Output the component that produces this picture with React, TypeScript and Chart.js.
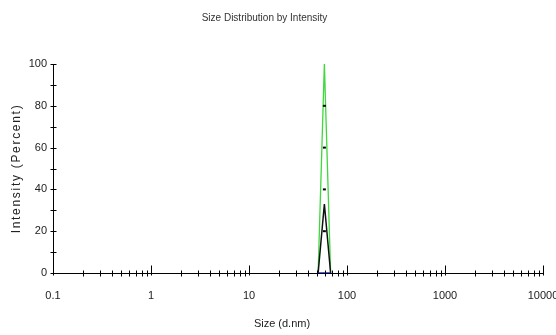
import { useEffect, useRef } from 'react';
import { Chart, registerables } from 'chart.js';
Chart.register(...registerables);

// Size bins (d.nm) and intensity (%)
const sizes = [50.75, 58.77, 68.06];
const greenIntensity = [0, 100, 0];
const blackIntensity = [0, 33, 0];
const blueIntensity = [0, 0, 0];
const markerSizes = [58.77, 58.77, 58.77, 58.77];
const markerIntensity = [20, 40, 60, 80];

const xTickValues = [0.1, 1, 10, 100, 1000, 10000];
const xTickLabels = ['0.1', '1', '10', '100', '1000', '10000'];
const yTickValues = [0, 20, 40, 60, 80, 100];
const yTickLabels = ['0', '20', '40', '60', '80', '100'];

const FONT = "'Liberation Sans', Arial, sans-serif";

const wrapDraw = (obj: any, key: string, ctx: any, fn: (c: any) => void) => {
  if (!obj || obj['__p_' + key]) return;
  const orig = obj[key];
  obj[key] = function (...args: any[]) {
    ctx.save();
    fn(ctx);
    const r = orig.apply(this, args);
    ctx.restore();
    return r;
  };
  obj['__p_' + key] = true;
};

const axisPlugin = {
  id: 'axisMarks',
  afterLayout(chart: any) {
    const ctx = chart.ctx;
    wrapDraw(chart.scales.y, 'drawTitle', ctx, (c) => {
      c.letterSpacing = '1.7px';
    });
    wrapDraw(chart.scales.x, 'drawTitle', ctx, (c) => {
      c.translate(-16, 0);
    });
    wrapDraw(chart.titleBlock, 'draw', ctx, (c) => {
      c.translate(-7, 0);
    });
  },
  afterDraw(chart: any) {
    const { ctx, chartArea, scales } = chart;
    const xs = scales.x;
    const ys = scales.y;
    ctx.save();
    ctx.strokeStyle = '#000';
    ctx.lineWidth = 1;
    const line = (a: number, b: number, c: number, d: number) => {
      ctx.beginPath();
      ctx.moveTo(a, b);
      ctx.lineTo(c, d);
      ctx.stroke();
    };
    const x0 = Math.round(chartArea.left) + 0.5;
    const y0 = Math.round(chartArea.bottom) + 0.5;
    // y axis
    line(x0, chartArea.top, x0, y0);
    for (let v = 0; v <= 100; v += 10) {
      const py = Math.round(ys.getPixelForValue(v)) + 0.5;
      line(x0 - 3, py, x0 + 3, py);
    }
    // x axis
    line(chartArea.left, y0, chartArea.right, y0);
    xTickValues.forEach((d, i) => {
      const px = Math.round(xs.getPixelForValue(d)) + 0.5;
      line(px, y0 - 8, px, y0 + 2);
      if (i < xTickValues.length - 1) {
        for (let k = 2; k <= 9; k++) {
          const mx = Math.round(xs.getPixelForValue(d * k)) + 0.5;
          line(mx, y0 - 3, mx, y0 + 3);
        }
      }
    });
    ctx.restore();
  },
};

export default function App() {
  const ref = useRef<HTMLCanvasElement | null>(null);
  useEffect(() => {
    if (!ref.current) return;
    const chart = new Chart(ref.current, {
      type: 'line',
      data: {
        datasets: [
          {
            label: 'Blue',
            data: sizes.map((s, i) => ({ x: s, y: blueIntensity[i] })),
            borderColor: '#1a1aff',
            borderWidth: 1.5,
            pointRadius: 0,
          },
          {
            label: 'Marks',
            data: markerSizes.map((s, i) => ({ x: s, y: markerIntensity[i] })),
            showLine: false,
            pointStyle: 'line',
            pointRadius: 1.5,
            borderColor: '#000',
            backgroundColor: '#000',
            borderWidth: 2,
          },
          {
            label: 'Black',
            data: sizes.map((s, i) => ({ x: s, y: blackIntensity[i] })),
            borderColor: '#111',
            borderWidth: 1.5,
            pointRadius: 0,
          },
          {
            label: 'Green',
            data: sizes.map((s, i) => ({ x: s, y: greenIntensity[i] })),
            borderColor: '#3ed83e',
            borderWidth: 1.3,
            pointRadius: 0,
          },
        ],
      },
      options: {
        animation: false,
        responsive: false,
        maintainAspectRatio: false,
        layout: { padding: { left: 0, right: 13, top: 0, bottom: 0 } },
        plugins: {
          legend: { display: false },
          tooltip: { enabled: false },
          title: {
            display: true,
            text: 'Size Distribution by Intensity',
            color: '#333',
            font: { family: FONT, size: 10, weight: 'normal', lineHeight: 1.2 },
            padding: { top: 12, bottom: 40 },
          },
        },
        scales: {
          x: {
            type: 'logarithmic',
            position: 'bottom',
            min: 0.1,
            max: 10000,
            grid: { display: false, drawTicks: false },
            border: { display: false },
            afterBuildTicks: (s: any) => {
              s.ticks = xTickValues.map((v) => ({ value: v }));
            },
            afterFit: (s: any) => {
              s.height = 62;
              s.paddingLeft = 0;
              s.paddingRight = 0;
            },
            ticks: {
              autoSkip: false,
              maxRotation: 0,
              padding: 16,
              color: '#222',
              font: { family: FONT, size: 11 },
              callback: (_v: any, i: number) => xTickLabels[i],
            },
            title: {
              display: true,
              text: 'Size (d.nm)',
              color: '#222',
              font: { family: FONT, size: 11 },
              padding: { top: 0, bottom: 4 },
            },
          },
          y: {
            type: 'linear',
            min: 0,
            max: 100,
            grid: { display: false, drawTicks: false },
            border: { display: false },
            afterBuildTicks: (s: any) => {
              s.ticks = yTickValues.map((v) => ({ value: v }));
            },
            afterFit: (s: any) => {
              s.width = 53;
            },
            ticks: {
              padding: 6,
              color: '#222',
              font: { family: FONT, size: 11 },
              callback: (_v: any, i: number) => yTickLabels[i],
            },
            title: {
              display: true,
              text: 'Intensity (Percent)',
              color: '#222',
              font: { family: FONT, size: 12 },
              padding: { top: 9, bottom: 0 },
            },
          },
        },
      },
      plugins: [axisPlugin],
    } as any);
    return () => chart.destroy();
  }, []);
  return (
    <div style={{ position: 'fixed', left: 0, top: 0, width: 556, height: 335, background: '#fff' }}>
      <canvas ref={ref} width={556} height={335} style={{ width: 556, height: 335 }} />
    </div>
  );
}
